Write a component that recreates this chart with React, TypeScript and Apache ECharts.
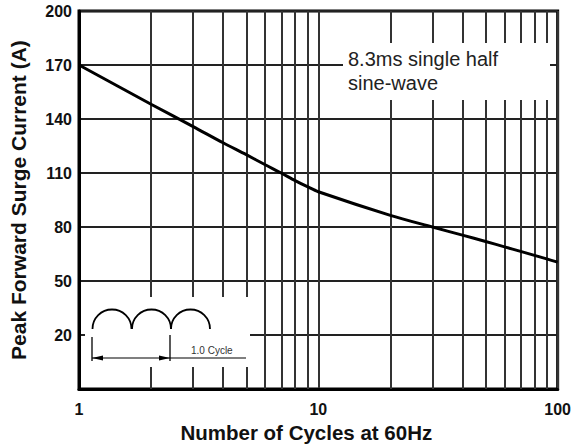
import React, { useEffect, useRef } from "react";
import * as echarts from "echarts";

const cycles = [1, 2, 3, 4, 5, 6, 7, 8, 9, 10, 20, 30, 40, 50, 60, 70, 80, 90, 100];
const surgeCurrent = [170, 148.2, 135.8, 126.8, 120.2, 114.6, 110, 105.8, 102.4, 99.6, 86.5, 80, 75.5, 72, 69, 66.5, 64.3, 62.3, 60.5];
const minorGridCycles = [2, 3, 4, 5, 6, 7, 8, 9, 20, 30, 40, 50, 60, 70, 80, 90];
const yMin = -10;
const yMax = 200;
const yInterval = 30;
const annotationText = "8.3ms single half\nsine-wave";
const cycleLabel = "1.0 Cycle";

const FONT = "'Liberation Sans', Arial, sans-serif";

export default function App() {
  const ref = useRef<HTMLDivElement>(null);
  useEffect(() => {
    if (!ref.current) return;
    const chart = echarts.init(ref.current, null, { renderer: "svg" });
    const arcR = 19.5;
    const arcCy = 329;
    const arcCx = [112, 151.5, 190.5];
    chart.setOption({
      animation: false,
      backgroundColor: "#fff",
      grid: {
        left: 78,
        right: 16,
        top: 11,
        bottom: 57,
        show: true,
        borderColor: "#000",
        borderWidth: 3,
        backgroundColor: "#fff",
      },
      xAxis: {
        type: "log",
        logBase: 10,
        min: 1,
        max: 100,
        name: "Number of Cycles at 60Hz",
        nameLocation: "middle",
        nameGap: 32,
        nameTextStyle: {
          fontFamily: FONT,
          fontWeight: "bold",
          fontSize: 20.5,
          color: "#111",
          padding: [0, 24, 0, 0],
        },
        axisLine: { show: true, onZero: false, lineStyle: { color: "#000", width: 3 } },
        axisTick: { show: false },
        axisLabel: { fontFamily: FONT, fontWeight: "bold", fontSize: 16, color: "#111", margin: 12 },
        splitLine: { show: true, lineStyle: { color: "#333", width: 2 } },
        minorSplitLine: { show: false },
      },
      yAxis: {
        type: "value",
        min: yMin,
        max: yMax,
        interval: yInterval,
        name: "Peak Forward Surge Current (A)",
        nameLocation: "middle",
        nameGap: 50,
        nameTextStyle: { fontFamily: FONT, fontWeight: "bold", fontSize: 21, color: "#111" },
        axisLine: { show: true, onZero: false, lineStyle: { color: "#000", width: 3 } },
        axisTick: { show: false },
        axisLabel: {
          fontFamily: FONT,
          fontWeight: "bold",
          fontSize: 16,
          color: "#111",
          margin: 7,
          formatter: (v: number) => (v === yMin ? "" : String(v)),
        },
        splitLine: { show: true, lineStyle: { color: "#222", width: 2 } },
      },
      series: [
        {
          type: "line",
          data: cycles.map((c, i) => [c, surgeCurrent[i]]),
          smooth: 0.3,
          symbol: "none",
          lineStyle: { color: "#000", width: 3 },
          z: 5,
          markLine: {
            silent: true,
            symbol: "none",
            label: { show: false },
            lineStyle: { color: "#333", width: 2, type: "solid" },
            data: minorGridCycles.map((c) => ({ xAxis: c })),
          },
        },
      ],
      graphic: [
        {
          type: "rect",
          z: 100,
          shape: { x: 343, y: 43, width: 207, height: 57 },
          style: { fill: "#fff" },
        },
        {
          type: "text",
          z: 101,
          x: 348,
          y: 47,
          style: {
            text: annotationText,
            fontFamily: FONT,
            fontSize: 20,
            lineHeight: 24,
            fill: "#222",
            verticalAlign: "top",
          },
        },
        {
          type: "rect",
          z: 100,
          shape: { x: 85, y: 297, width: 165, height: 70 },
          style: { fill: "#fff" },
        },
        ...arcCx.map((cx) => ({
          type: "arc",
          z: 101,
          shape: { cx, cy: arcCy, r: arcR, startAngle: Math.PI, endAngle: Math.PI * 2 },
          style: { stroke: "#000", lineWidth: 1.8, fill: "none" },
        })),
        {
          type: "line",
          z: 101,
          shape: { x1: 92, y1: 337, x2: 92, y2: 361 },
          style: { stroke: "#000", lineWidth: 1.3 },
        },
        {
          type: "line",
          z: 101,
          shape: { x1: 170, y1: 335, x2: 170, y2: 361 },
          style: { stroke: "#000", lineWidth: 1.3 },
        },
        {
          type: "line",
          z: 101,
          shape: { x1: 92, y1: 358, x2: 246, y2: 358 },
          style: { stroke: "#000", lineWidth: 1.1 },
        },
        {
          type: "polygon",
          z: 102,
          shape: { points: [[92, 358], [103, 355.5], [103, 360.5]] },
          style: { fill: "#000" },
        },
        {
          type: "polygon",
          z: 102,
          shape: { points: [[170, 358], [159, 355.5], [159, 360.5]] },
          style: { fill: "#000" },
        },
        {
          type: "text",
          z: 101,
          x: 191,
          y: 350,
          style: {
            text: cycleLabel,
            fontFamily: FONT,
            fontSize: 10,
            fill: "#333",
            verticalAlign: "middle",
          },
        },
      ],
    });
    return () => chart.dispose();
  }, []);
  return (
    <div
      ref={ref}
      style={{ position: "fixed", left: 0, top: 0, width: 574, height: 448, background: "#fff" }}
    />
  );
}
